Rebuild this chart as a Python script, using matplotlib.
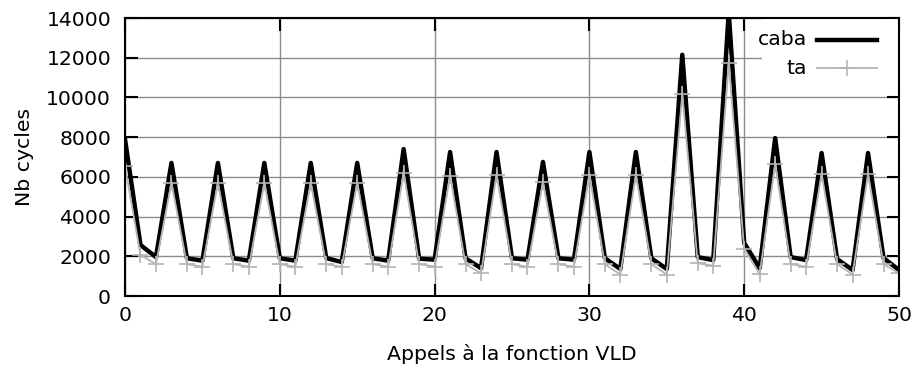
import numpy as np
import matplotlib
matplotlib.use("Agg")
import matplotlib.pyplot as plt
from matplotlib.lines import Line2D
from matplotlib.patches import Rectangle

# data
calls = np.arange(51)
caba = [7900, 2570, 1960, 6700, 1900, 1780, 6700, 1900, 1780, 6700,
        1900, 1780, 6700, 1910, 1710, 6700, 1900, 1780, 7400, 1880,
        1830, 7250, 1900, 1400, 7250, 1900, 1830, 6750, 1900, 1830,
        7250, 1900, 1360, 7250, 1900, 1360, 12150, 1960, 1810, 14300,
        2670, 1400, 7950, 1960, 1810, 7200, 1860, 1310, 7200, 1910,
        1310]
ta = [6550, 2060, 1600, 5700, 1600, 1480, 5700, 1600, 1480, 5700,
      1600, 1480, 5700, 1600, 1480, 5700, 1600, 1480, 6200, 1600,
      1480, 6050, 1600, 1150, 6100, 1600, 1480, 5720, 1600, 1480,
      6100, 1600, 1080, 6100, 1600, 1080, 10170, 1650, 1530, 11730,
      2360, 1100, 6640, 1600, 1480, 6150, 1600, 1080, 6150, 1600,
      1150]
labels = ["caba", "ta"]
xticks = [0, 10, 20, 30, 40, 50]
yticks = [0, 2000, 4000, 6000, 8000, 10000, 12000, 14000]

plt.rcParams['font.family'] = ['DejaVu Sans']
plt.rcParams['font.size'] = 14.7

fig = plt.figure(figsize=(9.15, 3.74), dpi=100)
ax = fig.add_axes([125/915, 1-296/374, 774/915, 278/374])

gray = '#b4b4b4'
ax.plot(calls, caba, color='black', lw=3.2, zorder=3)
ax.plot(calls, ta, color=gray, lw=1.3, marker='+', ms=11, mew=1.2, zorder=4)

ax.set_xlim(0, 50)
ax.set_ylim(0, 14000)
ax.set_xticks(xticks)
ax.set_yticks(yticks)
ax.grid(True, color='#8c8c8c', lw=1.0, zorder=0)
ax.set_axisbelow(True)
ax.tick_params(direction='in', length=9, width=1.5, top=True, right=True)
ax.tick_params(axis='y', pad=10)
ax.tick_params(axis='x', pad=7)
for s in ax.spines.values():
    s.set_linewidth(1.5)
    s.set_zorder(6)

ax.set_xlabel('Appels à la fonction VLD', labelpad=14)
ax.set_ylabel('Nb cycles', labelpad=9)

# gnuplot-like key, right aligned labels
ax.add_patch(Rectangle((0.823, 0.75), 0.177, 0.25, transform=ax.transAxes,
                       facecolor='white', edgecolor='none', zorder=2))
rows = [0.921, 0.820]
styles = [dict(color='black', lw=3.2), dict(color=gray, lw=1.3)]
for lab, yy, st in zip(labels, rows, styles):
    ax.text(0.881, yy, lab, transform=ax.transAxes, ha='right', va='center', zorder=5)
    ax.add_line(Line2D([0.894, 0.972], [yy, yy], transform=ax.transAxes, zorder=5, **st))
ax.add_line(Line2D([0.933], [rows[1]], transform=ax.transAxes, color=gray,
                   marker='+', ms=11, mew=1.2, zorder=5))

fig.savefig('out.png', dpi=100)
